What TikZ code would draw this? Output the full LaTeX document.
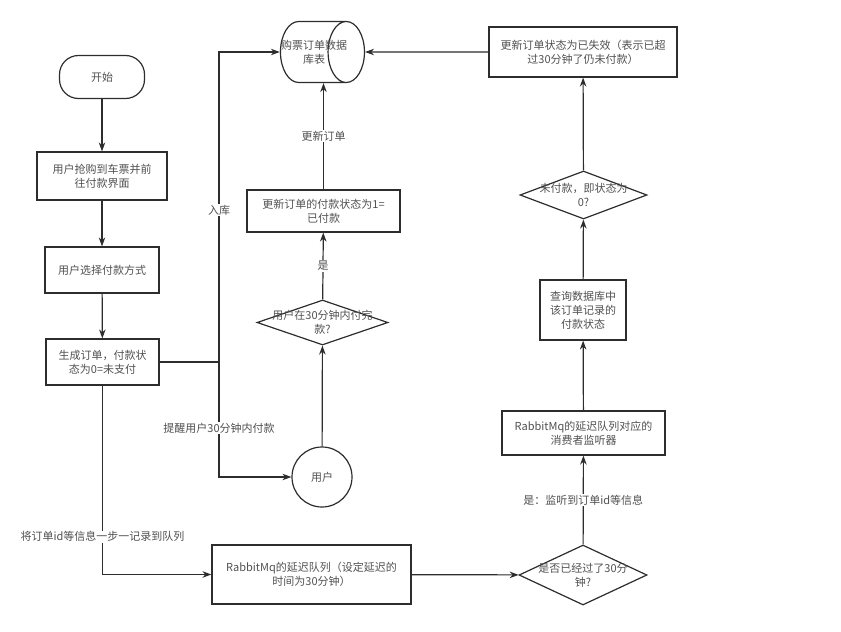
\documentclass[tikz,border=0pt]{standalone}
\usepackage{fontspec}
\newfontfamily\cjk{Noto Sans CJK SC}
\usetikzlibrary{arrows.meta,positioning,shapes.geometric}
\definecolor{mLine}{RGB}{45,45,45}
\definecolor{mText}{RGB}{80,80,80}

\begin{document}
\begin{tikzpicture}[>={Stealth[length=9pt,width=6.5pt]}, x=1pt, y=-1pt, line width=1.2pt,
    every node/.style={font=\cjk\fontsize{11}{14}\selectfont, text=mText, align=center, inner sep=0pt},
    box/.style={draw=mLine, rectangle},
    term/.style={draw=mLine, rectangle, rounded corners=19pt},
    decide/.style={draw=mLine, diamond},
    lbl/.style={fill=white, inner sep=1pt},
    conn/.style={draw=mLine}]
    \useasboundingbox (0,0) rectangle (841,632);

    % left column
    \node[term, minimum width=85, minimum height=43] (start) at (102,77) {开始};
    \node[box, minimum width=130, minimum height=48] (buy) at (102,176) {用户抢购到车票并前\\往付款界面};
    \node[box, minimum width=114, minimum height=46] (pay) at (102,270) {用户选择付款方式};
    \node[box, minimum width=113, minimum height=46] (order) at (102.5,362) {生成订单，付款状\\态为0=未支付};

    % middle column
    \node[draw=mLine, cylinder, aspect=0.65, inner xsep=0pt, inner ysep=28pt,
      minimum width=61, minimum height=84,
      label={[xshift=10pt]center:购票订单数据\\库表}] (db) at (304,52) {};
    \node[box, minimum width=153, minimum height=42] (paid) at (323.5,211) {更新订单的付款状态为1=\\已付款};
    \node[decide, minimum width=131, minimum height=45,
      label={center:用户在30分钟内付完\\款?}] (ask) at (322.5,322.5) {};
    \node[draw=mLine, circle, minimum size=60] (user) at (322,477) {用户};
    \node[box, minimum width=199, minimum height=59] (delay) at (311.5,574.5) {RabbitMq的延迟队列（设定延迟的\\时间为30分钟）};

    % right column
    \node[box, minimum width=188, minimum height=50] (expire) at (583,52) {更新订单状态为已失效（表示已超\\过30分钟了仍未付款）};
    \node[decide, minimum width=127, minimum height=48,
      label={center:未付款，即状态为\\0?}] (unpaid) at (583.5,195) {};
    \node[box, minimum width=86, minimum height=60] (query) at (583,310) {查询数据库中\\该订单记录的\\付款状态};
    \node[box, minimum width=163, minimum height=44] (listen) at (583.5,433) {RabbitMq的延迟队列对应的\\消费者监听器};
    \node[decide, minimum width=128, minimum height=60,
      label={center:是否已经过了30分\\钟?}] (timeout) at (583,575) {};

    \coordinate (split) at (219,362);

    % connectors
    \draw[conn, ->] (start) -- (buy);
    \draw[conn, ->] (buy) -- (pay);
    \draw[conn, ->] (pay) -- (order);
    \draw[conn] (order.east) -- (split);
    \draw[conn, ->] (split) |- (db.west) node[lbl, pos=0.245]{入库};
    \draw[conn, ->] (split) |- (user.west) node[lbl, pos=0.287]{提醒用户30分钟内付款};
    \draw[conn, ->] (user) -- (ask);
    \draw[conn, ->] (ask) -- (paid) node[lbl, midway]{是};
    \draw[conn, ->] (paid.north) -- (paid.north |- db.south) node[lbl, midway]{更新订单};
    \draw[conn, ->] (order.south) |- (delay.west) node[lbl, pos=0.4]{将订单id等信息一步一记录到队列};
    \draw[conn, ->] (delay) -- (timeout);
    \draw[conn, ->] (timeout) -- (listen) node[lbl, midway]{是：监听到订单id等信息};
    \draw[conn, ->] (listen) -- (query);
    \draw[conn, ->] (query) -- (unpaid);
    \draw[conn, ->] (unpaid) -- (expire);
    \draw[conn, ->] (expire.west) -- (db.east);
\end{tikzpicture}
\end{document}
